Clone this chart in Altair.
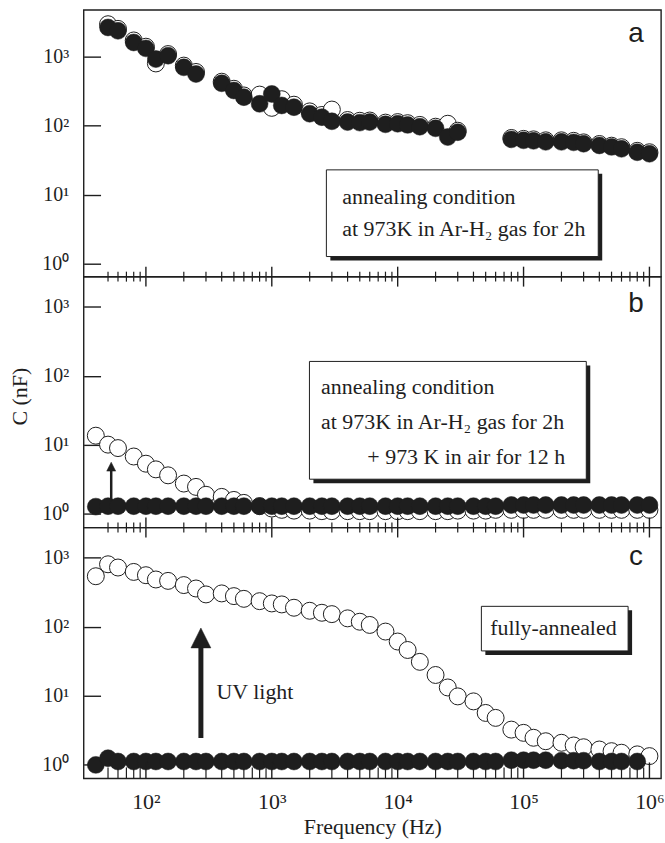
import altair as alt
import pandas as pd

# ---------------- data ----------------
FREQ = [40, 50, 60, 80, 100, 120, 150, 200, 250, 300,
        400, 500, 600, 800, 1000, 1200, 1500, 2000, 2500, 3000,
        4000, 5000, 6000, 8000, 10000, 12000, 15000, 20000, 25000, 30000,
        40000, 50000, 60000, 80000, 100000, 120000, 150000, 200000, 250000, 300000,
        400000, 500000, 600000, 800000, 1000000]

A_OPEN = [None, 2920, 2500, 1700, 1380, 790, 1080, 735, 595, None,
          430, 340, 272, 280, 180, 240, 200, 160, 142, 170,
          120, 117, 118, 110, 112, 108, 102, 96, 106, 84,
          None, None, None, 66, 64, 63, 61, 61, 60, 57,
          54, 51, 48.5, 43, 41]
A_FILLED = [None, 2620, 2345, 1590, 1305, 914, 1024, 694, 556, None,
            408, 321, 257, 206, 286, 195, 184, 148, 132, 115,
            112, 110, 112, 104, 106, 102, 96, 91, 68, 80,
            None, None, None, 63, 61, 60, 58, 58, 57, 54.5,
            51.5, 49, 46, 41, 39]

B_OPEN = [13.6, 10.1, 9.0, 6.8, 5.35, 4.43, 3.63, 2.76, 2.47, 1.9,
          1.77, 1.6, 1.45, 1.3, 1.2, 1.15, 1.12, 1.12, 1.1, 1.1,
          1.1, 1.1, 1.1, 1.1, 1.1, 1.1, 1.1, 1.1, 1.1, 1.12,
          1.12, 1.12, 1.15, 1.15, 1.15, 1.15, 1.15, 1.15, 1.15, 1.15,
          1.15, 1.15, 1.15, 1.15, 1.15]
B_FILLED = [1.28, 1.3, 1.3, 1.3, 1.3, 1.3, 1.3, 1.3, 1.3, 1.3,
            1.3, 1.3, 1.3, 1.3, 1.3, 1.3, 1.3, 1.3, 1.3, 1.3,
            1.3, 1.3, 1.3, 1.3, 1.3, 1.3, 1.3, 1.3, 1.3, 1.3,
            1.3, 1.3, 1.3, 1.35, 1.35, 1.35, 1.35, 1.35, 1.35, 1.35,
            1.35, 1.35, 1.35, 1.35, 1.35]

C_OPEN = [537, 800, 718, 620, 556, 482, 460, 400, 357, 293,
          303, 277, 253, 234, 217, 210, 188, 170, 159, 152,
          132, 118, 106, 85, 61, 46, 31, 20, 13.2, 9.8,
          8.3, 5.65, 4.79, 3.24, 2.91, 2.47, 2.2, 2.09, 1.91, 1.80,
          1.67, 1.58, 1.50, 1.42, 1.34]
C_FILLED = [1.0, 1.25, 1.12, 1.12, 1.12, 1.12, 1.12, 1.12, 1.12, 1.12,
            1.12, 1.12, 1.12, 1.12, 1.12, 1.12, 1.12, 1.12, 1.12, 1.12,
            1.12, 1.12, 1.12, 1.12, 1.12, 1.12, 1.12, 1.12, 1.12, 1.12,
            1.12, 1.12, 1.12, 1.17, 1.17, 1.17, 1.17, 1.15, 1.15, 1.15,
            1.12, 1.12, 1.12, 1.12, None]

MAJOR_TICKS = [100, 1000, 10000, 100000, 1000000]
MINOR_TICKS = [50, 60, 70, 80, 90,
               200, 300, 400, 500, 600, 700, 800, 900,
               2000, 3000, 4000, 5000, 6000, 7000, 8000, 9000,
               20000, 30000, 40000, 50000, 60000, 70000, 80000, 90000,
               200000, 300000, 400000, 500000, 600000, 700000, 800000, 900000]
Y_TICKS = [1, 10, 100, 1000]

# annotation anchors, in data units (Hz, nF)
BOX_A = {"x": 2714, "x2": 392000, "y": 1.27, "y2": 22.8}
TEXT_A = {"x": [3630, 3630], "y": [9.31, 3.22],
          "t": ["annealing condition", "at 973K in Ar-H\u2082 gas for 2h"]}
BOX_B = {"x": 1991, "x2": 315000, "y": 3.19, "y2": 161.5}
TEXT_B = {"x": [2464, 2464], "y": [68.2, 21.4],
          "t": ["annealing condition", "at 973K in Ar-H\u2082 gas for 2h"]}
TEXT_B3 = {"x": [214000], "y": [6.69], "t": ["+ 973 K in air for 12 h"]}
BOX_C = {"x": 46240, "x2": 677000, "y": 44.6, "y2": 197}
TEXT_C = {"x": [172600], "y": [95.8], "t": ["fully-annealed"]}
ARROW_B = {"x": 53, "y": 1.59, "y2": 4.6, "head": 4.85}
ARROW_C = {"x": 273.4, "y": 2.45, "y2": 53.9, "head": 68.7}
UV_TEXT = {"x": [364], "y": [11.4], "t": ["UV light"]}
LETTER_X = 783000
LETTERS = {"a": 2074, "b": 1094, "c": 1003}

# ---------------- styling ----------------
INK = "#1e1e1e"
SERIF = "Liberation Serif"
SANS = "Liberation Sans"
PW = 580
HA, HB, HC = 268, 252, 252
X_DOMAIN = [32.0, 1.236e6]
YA_DOMAIN = [0.650, 4710]
YBC_DOMAIN = [0.638, 2723]
MSIZE = 290

SUP = "['\u2070','\u00b9','\u00b2','\u00b3','\u2074','\u2075','\u2076']"
POW_LABEL = "'10' + " + SUP + "[round(log(datum.value) / LN10)]"


def y_axis(title):
    kw = dict(values=Y_TICKS, labelExpr=POW_LABEL, orient="left", offset=-17,
              tickSize=17, tickWidth=1.4, tickColor=INK, domain=False, grid=False,
              labelFont=SERIF, labelFontSize=20, labelColor=INK, labelPadding=15)
    if title:
        kw.update(title=title, titleFont=SERIF, titleFontSize=22, titleFontWeight="normal",
                  titleColor=INK, titlePadding=10, titleY=120)
    else:
        kw.update(title="")
    return alt.Axis(**kw)


def x_axis_bottom():
    return alt.Axis(values=MAJOR_TICKS, labelExpr=POW_LABEL, ticks=False, domain=False,
                    grid=False, labelFont=SERIF, labelFontSize=22, labelColor=INK,
                    labelPadding=13, title="Frequency (Hz)", titleFont=SERIF,
                    titleFontSize=22, titleFontWeight="normal", titleColor=INK,
                    titlePadding=4)


def series(vals):
    return pd.DataFrame([{"f": f, "c": v} for f, v in zip(FREQ, vals) if v is not None])


def panel(open_vals, filled_vals, ydom, height, letter, ytitle, with_x_axis, tick_spans,
          box, texts, extra_layers):
    xscale = alt.Scale(type="log", domain=X_DOMAIN, nice=False)
    yscale = alt.Scale(type="log", domain=ydom, nice=False)
    yax = y_axis(ytitle)
    xax = x_axis_bottom() if with_x_axis else None

    def X(field):
        if xax is None:
            return alt.X(field, scale=xscale, axis=None)
        return alt.X(field, scale=xscale, axis=xax)

    def Y(field):
        return alt.Y(field, scale=yscale, axis=yax)

    open_layer = alt.Chart(series(open_vals)).mark_circle(
        fill="white", stroke=INK, strokeWidth=1, size=MSIZE, opacity=1
    ).encode(x=X("f:Q"), y=Y("c:Q"))
    filled_layer = alt.Chart(series(filled_vals)).mark_circle(
        fill=INK, stroke=INK, strokeWidth=0.5, size=MSIZE, opacity=1
    ).encode(x=X("f:Q"), y=Y("c:Q"))

    layers = [open_layer, filled_layer]

    (maj0, maj1), (min0, min1) = tick_spans
    tick_major = alt.Chart(pd.DataFrame({"f": MAJOR_TICKS})).mark_rule(
        color=INK, strokeWidth=1.4).encode(x=X("f:Q"), y=alt.value(maj0), y2=alt.value(maj1))
    tick_minor = alt.Chart(pd.DataFrame({"f": MINOR_TICKS})).mark_rule(
        color=INK, strokeWidth=1.2).encode(x=X("f:Q"), y=alt.value(min0), y2=alt.value(min1))
    layers += [tick_major, tick_minor]

    if box is not None:
        bdf = pd.DataFrame([{"f": box["x"], "f2": box["x2"], "c": box["y"], "c2": box["y2"]}])
        enc = dict(x=X("f:Q"), x2="f2:Q", y=Y("c:Q"), y2="c2:Q")
        layers.append(alt.Chart(bdf).mark_rect(fill=INK, xOffset=4, x2Offset=4,
                                               yOffset=4, y2Offset=4).encode(**enc))
        layers.append(alt.Chart(bdf).mark_rect(fill="white", stroke=INK,
                                               strokeWidth=1).encode(**enc))
    for tdict, align in texts:
        tdf = pd.DataFrame({"f": tdict["x"], "c": tdict["y"], "t": tdict["t"]})
        layers.append(alt.Chart(tdf).mark_text(
            align=align, baseline="middle", font=SERIF, fontSize=22, color=INK).encode(
            x=X("f:Q"), y=Y("c:Q"), text="t:N"))

    ldf = pd.DataFrame({"f": [LETTER_X], "c": [LETTERS[letter]], "t": [letter]})
    layers.append(alt.Chart(ldf).mark_text(
        align="center", baseline="middle", font=SANS, fontSize=28, color=INK).encode(
        x=X("f:Q"), y=Y("c:Q"), text="t:N"))
    layers += extra_layers(X, Y)
    return alt.layer(*layers).properties(width=PW, height=height)


def arrow(spec, line_w, head_size):
    def make(X, Y):
        df = pd.DataFrame([{"f": spec["x"], "c": spec["y"], "c2": spec["y2"], "h": spec["head"]}])
        line = alt.Chart(df).mark_rule(color=INK, strokeWidth=line_w).encode(
            x=X("f:Q"), y=Y("c:Q"), y2="c2:Q")
        hdf = pd.DataFrame([{"f": spec["x"], "c": spec["head"]}])
        head = alt.Chart(hdf).mark_point(
            shape="M0,-1L1,1L-1,1Z", filled=True, fill=INK, stroke=INK, strokeWidth=0.5,
            size=head_size, opacity=1).encode(x=X("f:Q"), y=Y("c:Q"))
        return [line, head]
    return make


def none_extra(X, Y):
    return []


def c_extra(X, Y):
    udf = pd.DataFrame({"f": UV_TEXT["x"], "c": UV_TEXT["y"], "t": UV_TEXT["t"]})
    uv = alt.Chart(udf).mark_text(
        align="left", baseline="middle", font=SERIF, fontSize=22, color=INK).encode(
        x=X("f:Q"), y=Y("c:Q"), text="t:N")
    return arrow(ARROW_C, 5, 400)(X, Y) + [uv]


pa = panel(A_OPEN, A_FILLED, YA_DOMAIN, HA, "a", None, False,
           ((HA - 10, HA + 10), (HA - 5, HA + 5)),
           BOX_A, [(TEXT_A, "left")], none_extra)
pb = panel(B_OPEN, B_FILLED, YBC_DOMAIN, HB, "b", "C (nF)", False,
           ((HB - 10, HB + 10), (HB - 5, HB + 5)),
           BOX_B, [(TEXT_B, "left"), (TEXT_B3, "right")], arrow(ARROW_B, 2.5, 81))
pc = panel(C_OPEN, C_FILLED, YBC_DOMAIN, HC, "c", None, True,
           ((HC - 16, HC), (HC - 11, HC)),
           BOX_C, [(TEXT_C, "center")], c_extra)

chart = alt.vconcat(pa, pb, pc, spacing=0, bounds="flush").properties(
    padding={"left": 8, "top": 7, "right": 0, "bottom": 0},
    background="white",
).configure(font=SERIF).configure_view(stroke=INK, strokeWidth=1.4)

chart.save("out.html", embed_options={"renderer": "svg", "actions": False})
